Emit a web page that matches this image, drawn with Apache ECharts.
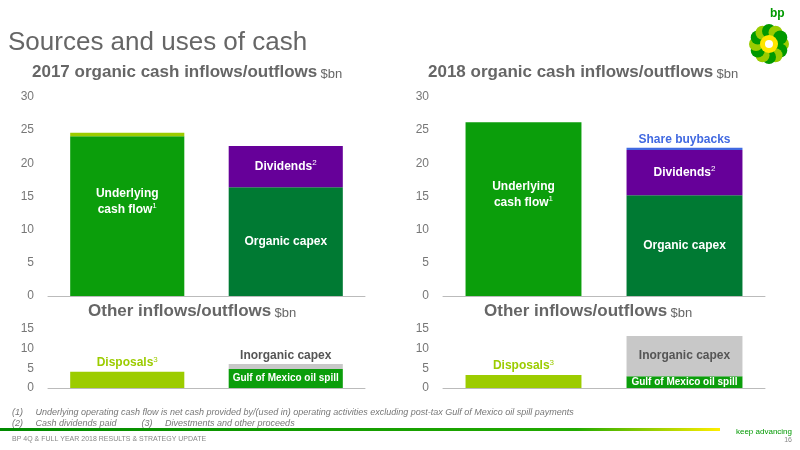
<!DOCTYPE html>
<html>
<head>
<meta charset="utf-8">
<script src="https://cdn.jsdelivr.net/npm/echarts@6/dist/echarts.min.js"></script>
<style>html,body{margin:0;padding:0;background:#fff}#main{width:800px;height:450px}</style>
</head>
<body>
<div id="main"></div>
<script>
var categories = ['Inflows', 'Outflows'];
var topTicks = [0, 5, 10, 15, 20, 25, 30];
var bottomTicks = [0, 5, 10, 15];

// 2017 organic ($bn)
var cash2017 = [24.1, null];
var cashExtra2017 = [0.5, null];
var capex2017 = [null, 16.4];
var dividends2017 = [null, 6.2];
// 2018 organic ($bn)
var cash2018 = [26.2, null];
var capex2018 = [null, 15.2];
var dividends2018 = [null, 6.8];
var buybacks2018 = [null, 0.35];
// other inflows/outflows ($bn)
var disposals2017 = [4.1, null];
var spill2017 = [null, 4.8];
var inorganic2017 = [null, 1.3];
var disposals2018 = [3.3, null];
var spill2018 = [null, 3.0];
var inorganic2018 = [null, 10.2];

var C = {
    cash: '#0b9e0b', light: '#9ccc00', capex: '#007a33',
    div: '#660099', buy: '#4169e1', gray: '#c8c8c8'
};

var chart = echarts.init(document.getElementById('main'));

var grids = [
    {left: 48, width: 317, top: 97, height: 199},
    {left: 443, width: 322, top: 97, height: 199},
    {left: 48, width: 317, top: 329, height: 59},
    {left: 443, width: 322, top: 329, height: 59}
];

function xAx(i) {
    return {gridIndex: i, type: 'category', data: categories,
        axisLine: {lineStyle: {color: '#bbb'}}, axisTick: {show: false},
        axisLabel: {show: false}};
}
function yAx(i, max) {
    return {gridIndex: i, type: 'value', min: 0, max: max, interval: 5,
        splitLine: {show: false}, axisLine: {show: false}, axisTick: {show: false},
        axisLabel: {color: '#777', fontSize: 12, fontFamily: 'Arial', margin: 14}};
}

var rich = {
    w: {color: '#fff', fontWeight: 'bold', fontSize: 12, fontFamily: 'Arial', lineHeight: 16},
    sup: {color: '#fff', fontSize: 8, verticalAlign: 'top', padding: [0, 0, 6, 0]}
};

function bar(name, xi, data, color, stack, label) {
    var s = {name: name, type: 'bar', xAxisIndex: xi, yAxisIndex: xi, data: data,
        stack: stack, barWidth: '72%', itemStyle: {color: color}, silent: true};
    if (label) s.label = Object.assign({show: true, rich: rich}, label);
    return s;
}

var cashLabel = {position: 'inside', offset: [0, -14], formatter: '{w|Underlying}\n{w|cash flow}{sup|1}'};
var capexLabel = {position: 'inside', formatter: '{w|Organic capex}'};
var divLabel = {position: 'inside', formatter: '{w|Dividends}{sup|2}'};

var series = [
    bar('cash', 0, cash2017, C.cash, 'a', cashLabel),
    bar('cashx', 0, cashExtra2017, C.light, 'a'),
    bar('capex', 0, capex2017, C.capex, 'a', capexLabel),
    bar('div', 0, dividends2017, C.div, 'a', divLabel),
    bar('cash', 1, cash2018, C.cash, 'b', cashLabel),
    bar('capex', 1, capex2018, C.capex, 'b', capexLabel),
    bar('div', 1, dividends2018, C.div, 'b', divLabel),
    bar('buy', 1, buybacks2018, C.buy, 'b', {position: 'top', distance: 2,
        formatter: 'Share buybacks', color: '#4169e1', fontWeight: 'bold', fontSize: 12, fontFamily: 'Arial'}),
    bar('disp', 2, disposals2017, C.light, 'c', {position: 'top', distance: 2,
        formatter: '{g|Disposals}{gs|3}', rich: {g: {color: '#9ccc00', fontWeight: 'bold', fontSize: 12, fontFamily: 'Arial'},
        gs: {color: '#9ccc00', fontSize: 8, verticalAlign: 'top', padding: [0, 0, 6, 0]}}}),
    bar('spill', 2, spill2017, C.cash, 'c', {position: 'inside', formatter: '{s|Gulf of Mexico oil spill}',
        rich: {s: {color: '#fff', fontWeight: 'bold', fontSize: 10, fontFamily: 'Arial'}}}),
    bar('inorg', 2, inorganic2017, C.gray, 'c', {position: 'top', distance: 2,
        formatter: 'Inorganic capex', color: '#555', fontWeight: 'bold', fontSize: 12, fontFamily: 'Arial'}),
    bar('disp', 3, disposals2018, C.light, 'd', {position: 'top', distance: 2,
        formatter: '{g|Disposals}{gs|3}', rich: {g: {color: '#9ccc00', fontWeight: 'bold', fontSize: 12, fontFamily: 'Arial'},
        gs: {color: '#9ccc00', fontSize: 8, verticalAlign: 'top', padding: [0, 0, 6, 0]}}}),
    bar('spill', 3, spill2018, C.cash, 'd', {position: 'inside', formatter: '{s|Gulf of Mexico oil spill}',
        rich: {s: {color: '#fff', fontWeight: 'bold', fontSize: 10, fontFamily: 'Arial'}}}),
    bar('inorg', 3, inorganic2018, C.gray, 'd', {position: 'inside',
        formatter: 'Inorganic capex', color: '#555', fontWeight: 'bold', fontSize: 12, fontFamily: 'Arial'})
];

function heading(x, y, txt, size) {
    return {type: 'text', left: x, top: y, style: {
        text: '{h|' + txt + '} {u|$bn}',
        rich: {h: {fontSize: size, fontWeight: 'bold', fill: '#666', fontFamily: 'Arial'},
               u: {fontSize: 13, fill: '#666', fontFamily: 'Arial', padding: [3, 0, 0, 0]}}}};
}

// bp helios logo petals
var petals = [];
for (var k = 0; k < 12; k++) {
    var a = k * Math.PI / 6;
    petals.push({type: 'circle', shape: {cx: 769 + 13 * Math.cos(a), cy: 44 + 13 * Math.sin(a), r: 7},
        style: {fill: k % 2 ? '#009900' : '#99cc00'}});
}
petals.push({type: 'circle', shape: {cx: 769, cy: 44, r: 9}, style: {fill: '#ffe600'}});
petals.push({type: 'circle', shape: {cx: 769, cy: 44, r: 4}, style: {fill: '#fff'}});

chart.setOption({
    animation: false,
    grid: grids,
    xAxis: [xAx(0), xAx(1), xAx(2), xAx(3)],
    yAxis: [yAx(0, 30), yAx(1, 30), yAx(2, 15), yAx(3, 15)],
    series: series,
    graphic: [
        {type: 'text', left: 8, top: 30, style: {text: 'Sources and uses of cash', fontSize: 26,
            fill: '#666', fontFamily: 'Arial'}},
        heading(32, 64, '2017 organic cash inflows/outflows', 17),
        heading(428, 64, '2018 organic cash inflows/outflows', 17),
        heading(88, 303, 'Other inflows/outflows', 17),
        heading(484, 303, 'Other inflows/outflows', 17),
        {type: 'text', left: 770, top: 8, style: {text: 'bp', fontSize: 12, fontWeight: 'bold', fill: '#009900', align: 'center', fontFamily: 'Arial'}},
        {type: 'group', children: petals},
        {type: 'text', left: 12, top: 407, style: {text: '(1)     Underlying operating cash flow is net cash provided by/(used in) operating activities excluding post-tax Gulf of Mexico oil spill payments\n(2)     Cash dividends paid          (3)     Divestments and other proceeds',
            fontSize: 9, fontStyle: 'italic', fill: '#777', fontFamily: 'Arial', lineHeight: 11}},
        {type: 'rect', shape: {x: 0, y: 428, width: 720, height: 3},
            style: {fill: new echarts.graphic.LinearGradient(0, 0, 1, 0, [
                {offset: 0, color: '#008a00'}, {offset: 0.8, color: '#22aa00'}, {offset: 1, color: '#ffee00'}])}},
        {type: 'text', right: 8, top: 428, style: {text: 'keep advancing', fontSize: 8, fill: '#009900', fontFamily: 'Arial'}},
        {type: 'text', left: 12, top: 436, style: {text: 'BP 4Q & FULL YEAR 2018 RESULTS & STRATEGY UPDATE', fontSize: 7, fill: '#888', fontFamily: 'Arial'}},
        {type: 'text', right: 8, top: 437, style: {text: '16', fontSize: 7, fill: '#888', fontFamily: 'Arial'}}
    ]
});
</script>
</body>
</html>
